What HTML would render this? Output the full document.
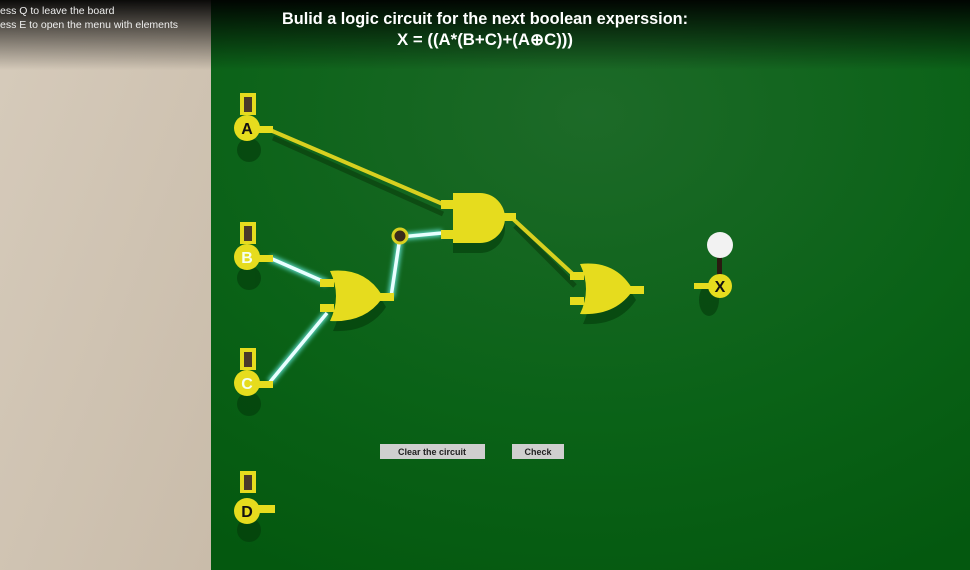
<!DOCTYPE html>
<html><head><meta charset="utf-8"><style>
html,body{margin:0;padding:0;width:970px;height:570px;overflow:hidden;background:#0a6a1a}
svg{display:block}
text{font-family:"Liberation Sans",sans-serif}
</style></head><body>
<svg width="970" height="570" viewBox="0 0 970 570" xmlns="http://www.w3.org/2000/svg">
<defs>
<linearGradient id="top" x1="0" y1="0" x2="0" y2="1">
<stop offset="0" stop-color="#000" stop-opacity="0.95"/><stop offset="1" stop-color="#000" stop-opacity="0"/></linearGradient>
<radialGradient id="brd" cx="0.5" cy="0.2" r="0.9">
<stop offset="0" stop-color="#1d6a28"/><stop offset="0.6" stop-color="#0a6217"/><stop offset="1" stop-color="#04580f"/></radialGradient>
<linearGradient id="bei" x1="0" y1="0" x2="1" y2="1">
<stop offset="0" stop-color="#d6cbbb"/><stop offset="1" stop-color="#c9bcaa"/></linearGradient>
<filter id="glow"><feGaussianBlur stdDeviation="2"/></filter>
</defs>
<rect x="0" y="0" width="211" height="570" fill="url(#bei)"/>
<rect x="211" y="0" width="759" height="570" fill="url(#brd)"/>
<rect x="0" y="0" width="970" height="70" fill="url(#top)"/>
<text x="0" y="14" font-size="10.5" fill="#eee">ess Q to leave the board</text>
<text x="0" y="28" font-size="10.5" fill="#eee">ess E to open the menu with elements</text>
<text x="485" y="24" font-size="16.5" font-weight="bold" fill="#fff" text-anchor="middle" textLength="406" lengthAdjust="spacingAndGlyphs">Bulid a logic circuit for the next boolean experssion:</text>
<text x="485" y="45" font-size="16.5" font-weight="bold" fill="#fff" text-anchor="middle" textLength="176" lengthAdjust="spacingAndGlyphs">X = ((A*(B+C)+(A⊕C)))</text>

<!-- shadows -->
<g fill="#043a0a" opacity="0.6">
<ellipse cx="249" cy="150" rx="12" ry="12"/><ellipse cx="249" cy="278" rx="12" ry="12"/>
<ellipse cx="249" cy="404" rx="12" ry="12"/><ellipse cx="249" cy="530" rx="12" ry="12"/>
<path d="M453 203 h27 a25 25 0 0 1 0 50 h-27z"/>
<path d="M333 281 q36 -4 53 26 q-17 26 -53 24 q12 -25 0 -50z"/>
<path d="M583 274 q36 -4 53 26 q-17 26 -53 24 q12 -25 0 -50z"/>
<ellipse cx="709" cy="300" rx="10" ry="16"/>
</g>
<!-- yellow wires -->
<g stroke="#0a3a0c" stroke-width="5" opacity="0.6" fill="none">
<line x1="273" y1="138" x2="443" y2="214"/><line x1="515" y1="226" x2="575" y2="286"/></g>
<g stroke="#d8d020" stroke-width="4" fill="none">
<line x1="270" y1="130" x2="445" y2="205"/><line x1="512" y1="218" x2="576" y2="277"/></g>
<!-- cyan wires -->
<g stroke="#7ff" stroke-width="7" fill="none" filter="url(#glow)" opacity="0.7">
<polyline points="270,258 327,283"/><polyline points="270,382 327,313"/><polyline points="391,297 400,237 442,233"/></g>
<g stroke="#e8ffff" stroke-width="3.5" fill="none">
<polyline points="270,258 327,283"/><polyline points="270,382 327,313"/><polyline points="391,297 400,237 442,233"/></g>
<circle cx="400" cy="236" r="7" fill="#3a2a1a" stroke="#d8d020" stroke-width="3"/>

<g fill="#e6dc1e">
<rect x="441" y="200" width="14" height="9"/><rect x="441" y="230" width="14" height="9"/>
<path d="M453 193 h27 a25 25 0 0 1 0 50 h-27z"/><rect x="503" y="213" width="13" height="8"/>
<rect x="320" y="279" width="14" height="8"/><rect x="320" y="304" width="14" height="8"/>
<path d="M330 271 q36 -4 53 26 q-17 26 -53 24 q12 -25 0 -50z"/><rect x="380" y="293" width="14" height="8"/>
<rect x="570" y="272" width="14" height="8"/><rect x="570" y="297" width="14" height="8"/>
<path d="M580 264 q36 -4 53 26 q-17 26 -53 24 q12 -25 0 -50z"/><rect x="630" y="286" width="14" height="8"/>
</g>

<g>
<g transform="translate(247,128)">
<rect x="-7" y="-35" width="16" height="22" fill="#e6dc1e"/><rect x="-3" y="-31" width="8" height="15" fill="#4a3a2a"/>
<rect x="8" y="-2" width="18" height="7" fill="#e6dc1e"/><circle r="13" fill="#e6dc1e"/>
<text y="6" font-size="16" font-weight="bold" text-anchor="middle" fill="#111">A</text></g>
<g transform="translate(247,257)">
<rect x="-7" y="-35" width="16" height="22" fill="#e6dc1e"/><rect x="-3" y="-31" width="8" height="15" fill="#4a3a2a"/>
<rect x="8" y="-2" width="18" height="7" fill="#e6dc1e"/><circle r="13" fill="#e6dc1e"/>
<text y="6" font-size="16" font-weight="bold" text-anchor="middle" fill="#f4fff0">B</text></g>
<g transform="translate(247,383)">
<rect x="-7" y="-35" width="16" height="22" fill="#e6dc1e"/><rect x="-3" y="-31" width="8" height="15" fill="#4a3a2a"/>
<rect x="8" y="-2" width="18" height="7" fill="#e6dc1e"/><circle r="13" fill="#e6dc1e"/>
<text y="6" font-size="16" font-weight="bold" text-anchor="middle" fill="#f4fff0">C</text></g>
<g transform="translate(247,511)">
<rect x="-7" y="-40" width="16" height="22" fill="#e6dc1e"/><rect x="-3" y="-36" width="8" height="15" fill="#4a3a2a"/>
<rect x="8" y="-6" width="20" height="8" fill="#e6dc1e"/><circle r="13" fill="#e6dc1e"/>
<text y="6" font-size="16" font-weight="bold" text-anchor="middle" fill="#111">D</text></g>
</g>

<rect x="717" y="255" width="5" height="20" fill="#2a1a10"/>
<circle cx="720" cy="245" r="13" fill="#f2f2f2"/>
<rect x="694" y="283" width="16" height="6" fill="#e6dc1e"/>
<circle cx="720" cy="286" r="12" fill="#e6dc1e"/>
<text x="720" y="292" font-size="16" font-weight="bold" text-anchor="middle" fill="#111">X</text>

<rect x="380" y="444" width="105" height="15" fill="#cfcfcf"/>
<text x="432" y="455" font-size="9" font-weight="bold" text-anchor="middle" fill="#222">Clear the circuit</text>
<rect x="512" y="444" width="52" height="15" fill="#cfcfcf"/>
<text x="538" y="455" font-size="9" font-weight="bold" text-anchor="middle" fill="#222">Check</text>
</svg>
</body></html>
